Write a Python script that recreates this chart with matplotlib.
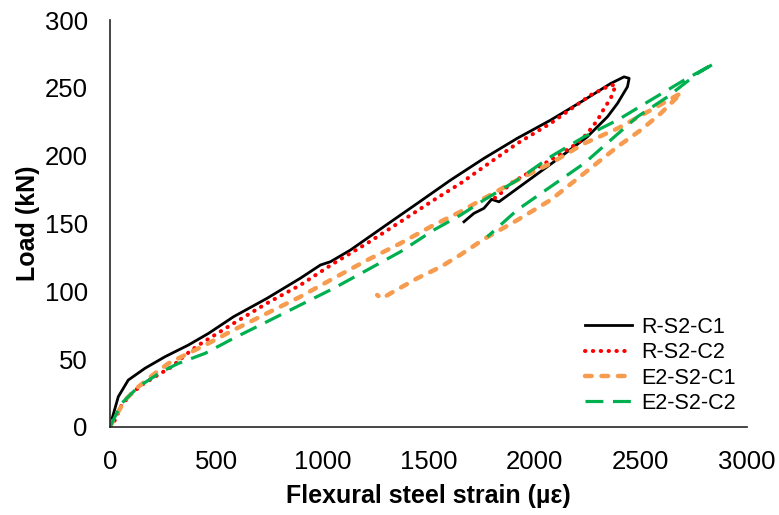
import matplotlib
matplotlib.use("Agg")
import matplotlib.pyplot as plt

plt.rcParams['font.family'] = ['Liberation Sans', 'DejaVu Sans']

# Load vs. flexural steel strain (loading + unloading branches)
r_c1_strain = [0, 8, 39, 86, 165, 259, 369, 464, 582, 739, 896, 991, 1014, 1038, 1132, 1289,
               1447, 1604, 1761, 1918, 2075, 2233, 2358, 2421, 2445, 2437, 2390, 2343, 2248,
               2091, 1832, 1797, 1761, 1714, 1667]
r_c1_load = [0, 5.2, 22.3, 34.6, 43.3, 51.8, 60.4, 69.0, 81.3, 94.8, 109.6, 119.4, 120.6, 121.8,
             130.4, 147.6, 164.8, 182.0, 198.0, 212.8, 226.2, 241.0, 253.2, 258.1, 257.0, 250.8,
             238.5, 228.7, 213.9, 195.5, 166.0, 167.8, 161.2, 157.5, 151.3]

r_c2_strain = [0, 16, 55, 102, 150, 212, 291, 354, 417, 480, 582, 739, 896, 1053, 1211, 1368,
               1525, 1651, 1761, 1918, 2075, 2264, 2358, 2382, 2358, 2327, 2296, 2248, 2201,
               2138, 2075, 1887, 1840, 1800]
r_c2_load = [0, 2.7, 16.2, 24.8, 31.0, 37.1, 44.4, 53.0, 60.4, 66.5, 76.4, 91.2, 104.6, 120.6,
             135.4, 151.3, 167.3, 179.6, 191.8, 209.0, 223.8, 244.7, 252.0, 252.0, 242.2, 234.8,
             226.2, 216.4, 209.0, 202.9, 196.8, 179.6, 172.2, 167.3]

e_c1_strain = [0, 16, 71, 134, 212, 275, 369, 464, 582, 739, 896, 1053, 1211, 1368, 1525, 1651,
               1761, 1918, 2075, 2233, 2390, 2547, 2673, 2690, 2594, 2500, 2390, 2233, 2075,
               1918, 1761, 1651, 1557, 1447, 1321, 1281, 1258]
e_c1_load = [0, 5.2, 19.9, 29.7, 39.6, 46.9, 54.3, 61.7, 71.5, 83.8, 96.0, 109.6, 123.0, 135.4,
             148.9, 158.7, 168.5, 182.0, 194.3, 209.0, 220.0, 233.6, 244.7, 246.0, 231.2, 218.9,
             206.6, 187.0, 167.3, 152.5, 138.5, 127.0, 118.0, 109.6, 98.5, 94.8, 97.3]

e_c2_strain = [0, 8, 55, 134, 244, 322, 448, 582, 739, 896, 1053, 1211, 1368, 1525, 1651, 1761,
               1918, 2075, 2233, 2390, 2547, 2704, 2846, 2767, 2626, 2484, 2358, 2233, 2075,
               1918, 1777]
e_c2_load = [0, 2.7, 17.5, 29.7, 40.8, 46.9, 54.3, 65.4, 77.6, 89.9, 102.2, 115.7, 129.2, 145.2,
             156.2, 167.3, 182.0, 199.2, 213.9, 226.2, 241.0, 255.7, 268.0, 260.6, 243.4, 228.7,
             211.5, 194.3, 177.1, 160.0, 140.2]

labels = ["R-S2-C1", "R-S2-C2", "E2-S2-C1", "E2-S2-C2"]
x_ticks = [0, 500, 1000, 1500, 2000, 2500, 3000]
y_ticks = [0, 50, 100, 150, 200, 250, 300]

fig = plt.figure(figsize=(7.79, 5.15), dpi=100)
ax = fig.add_axes([110 / 779, 1 - 427 / 515, 637 / 779, 407 / 515])

ax.plot(r_c1_strain, r_c1_load, color="black", lw=2.0, label=labels[0],
        solid_joinstyle="round")
ax.plot(r_c2_strain, r_c2_load, color="#FF0000", lw=2.9, label=labels[1],
        dashes=(0.1, 1.85), dash_capstyle="round")
ax.plot(e_c1_strain, e_c1_load, color="#F79B4F", lw=3.2, label=labels[2],
        dashes=(1.5, 2.2), dash_capstyle="round")
ax.plot(e_c2_strain, e_c2_load, color="#00B050", lw=2.3, label=labels[3],
        dashes=(5.6, 3.0), dash_capstyle="butt")

ax.set_xlim(0, 3000)
ax.set_ylim(0, 300)
ax.set_xticks(x_ticks)
ax.set_yticks(y_ticks)
ax.tick_params(axis="both", length=0, labelsize=18.5)
ax.tick_params(axis="x", pad=16.5)
ax.tick_params(axis="y", pad=16)

for side in ("top", "right"):
    ax.spines[side].set_visible(False)
for side in ("left", "bottom"):
    ax.spines[side].set_color("#262626")
    ax.spines[side].set_linewidth(1.2)

ax.set_xlabel("Flexural steel strain (\u00b5\u03b5)", fontsize=18, fontweight="bold", labelpad=7)
ax.set_ylabel("Load (kN)", fontsize=18, fontweight="bold", labelpad=3)

leg = ax.legend(loc="upper left", bbox_to_anchor=(585 / 779, 1 - 317 / 515),
                bbox_transform=fig.transFigure, frameon=False, fontsize=15.5,
                handlelength=2.2, handletextpad=0.42, labelspacing=0.2, borderpad=0,
                borderaxespad=0)

fig.savefig("out.png", dpi=100)
